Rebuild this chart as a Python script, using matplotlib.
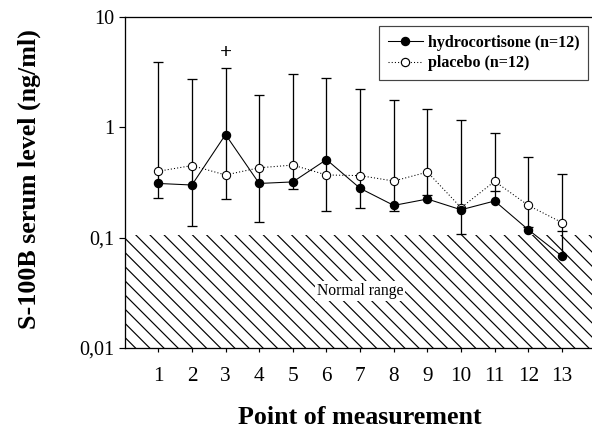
import matplotlib.pyplot as plt
import numpy as np
from matplotlib.ticker import FixedLocator, NullLocator
from matplotlib.lines import Line2D

# values (ng/ml)
points = np.arange(1, 14)
hydrocortisone = [0.31, 0.30, 0.86, 0.31, 0.32, 0.51, 0.28, 0.196, 0.224, 0.179, 0.215, 0.118, 0.068]
placebo = [0.40, 0.45, 0.37, 0.43, 0.455, 0.37, 0.365, 0.326, 0.393, 0.187, 0.324, 0.196, 0.137]
bar_top = [3.9, 2.72, 3.45, 1.95, 3.02, 2.82, 2.21, 1.76, 1.48, 1.17, 0.88, 0.54, 0.38]
bar_bottom = [0.227, 0.127, 0.224, 0.138, 0.274, 0.174, 0.186, 0.176, 0.242, 0.109, 0.263, 0.125, 0.116]
normal_limit = 0.105
y_ticks = [0.01, 0.1, 1, 10]
y_labels = ["0,01", "0,1", "1", "10"]

DPI = 85
plt.rcParams["font.family"] = ["Liberation Serif", "DejaVu Serif"]
plt.rcParams["hatch.linewidth"] = 1.0

fig = plt.figure(figsize=(592 / DPI, 430 / DPI), dpi=DPI)
ax = fig.add_axes([0.2105, 0.1907, 0.7956, 0.7698])
ax.set_yscale("log")
ax.set_xlim(0, 14)
ax.set_ylim(0.01, 10)

# normal range
ax.fill_between([0, 14], 0.01, normal_limit, facecolor="white", edgecolor="black",
                hatch="\\\\", linewidth=0, zorder=1)
ax.text(7, 0.033, "Normal range", ha="center", va="center", fontsize=13.3,
        bbox=dict(facecolor="white", edgecolor="none", pad=1.5), zorder=2)

# error bars
lows = np.minimum.reduce([bar_bottom, hydrocortisone, placebo])
ax.vlines(points, lows, bar_top, color="black", linewidth=1.1, zorder=3)
ax.plot(points, bar_top, ls="none", marker="_", ms=8.5, mew=1.1, color="black", zorder=3)
ax.plot(points, bar_bottom, ls="none", marker="_", ms=8.5, mew=1.1, color="black", zorder=3)

ax.plot(points, placebo, ls=(0, (1, 2)), color="black", lw=0.9, marker="o", ms=7,
        mfc="white", mec="black", mew=0.9, zorder=4)
ax.plot(points, hydrocortisone, ls="-", color="black", lw=0.9, marker="o", ms=7,
        mfc="black", mec="black", zorder=5)

ax.text(3, 4.7, "+", ha="center", va="center", fontsize=18, fontweight="bold")

ax.spines["right"].set_visible(False)
for s in ["left", "bottom", "top"]:
    ax.spines[s].set_linewidth(1.1)

ax.xaxis.set_major_locator(FixedLocator(points))
ax.yaxis.set_major_locator(FixedLocator(y_ticks))
ax.yaxis.set_minor_locator(NullLocator())
ax.set_yticklabels(y_labels)
ax.tick_params(axis="y", length=5, width=1, labelsize=17, pad=4)
ax.tick_params(axis="x", length=3, width=1, labelsize=18, pad=13)

ax.set_xlabel("Point of measurement", fontsize=22, fontweight="bold")
ax.set_ylabel("S-100B serum level (ng/ml)", fontsize=22, fontweight="bold")
ax.xaxis.set_label_coords(0.5, -0.175)
ax.yaxis.set_label_coords(-0.178, 0.51)

handles = [
    Line2D([], [], ls="-", color="black", lw=0.9, marker="o", ms=7, mfc="black"),
    Line2D([], [], ls=(0, (1, 2)), color="black", lw=0.9, marker="o", ms=7, mfc="white"),
]
leg = ax.legend(handles, ["hydrocortisone (n=12)", "placebo (n=12)"],
                loc="upper right", bbox_to_anchor=(0.984, 0.973), borderaxespad=0,
                fancybox=False, edgecolor="#444444", framealpha=1,
                prop=dict(weight="bold", size=13.5), handlelength=2.2,
                handletextpad=0.3, labelspacing=0.3, borderpad=0.55)
leg.get_frame().set_linewidth(1.0)

fig.savefig("out.png", dpi=DPI)
